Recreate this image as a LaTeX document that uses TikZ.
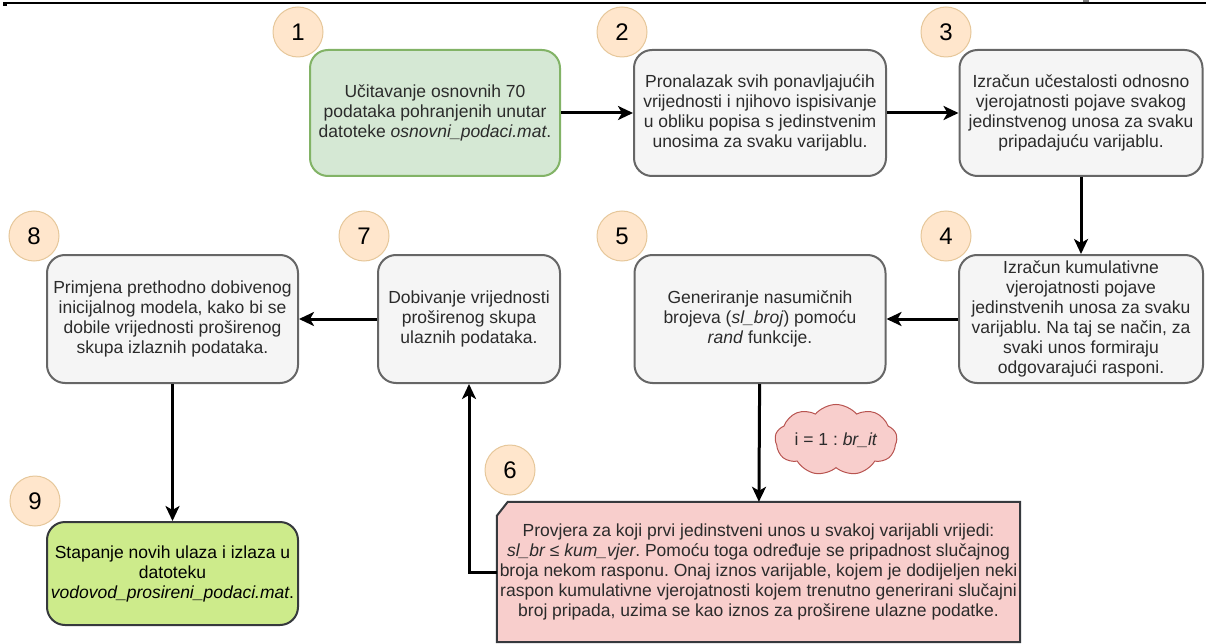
\documentclass[tikz,border=0pt]{standalone}
\usepackage{fontspec}
\setmainfont{Liberation Sans}
\usetikzlibrary{arrows.meta,shapes.symbols,backgrounds}
\definecolor{grayfill}{HTML}{F5F5F5}
\definecolor{grayline}{HTML}{666666}
\definecolor{textgray}{HTML}{2B2B2B}
\definecolor{greenfill}{HTML}{D5E8D4}
\definecolor{greenline}{HTML}{82B366}
\definecolor{limefill}{HTML}{CDEB8B}
\definecolor{darkline}{HTML}{36393D}
\definecolor{pinkfill}{HTML}{F8CECC}
\definecolor{cloudline}{HTML}{B85450}
\definecolor{numfill}{HTML}{FFE6CC}
\definecolor{numline}{HTML}{E6C79A}
\frenchspacing
\begin{document}
\begin{tikzpicture}[x = 1pt, y = -1pt,
	font = \fontsize{17.5}{20}\selectfont,
	stepbox/.style = {draw = grayline, fill = grayfill, text = textgray, line width = 2pt,
		rounded corners = 18pt, align = center, inner sep = 2pt},
	numcirc/.style = {circle, draw = numline, fill = numfill, line width = 1pt,
		minimum size = 50pt, inner sep = 0pt, font = \fontsize{24}{24}\selectfont},
	flow/.style = {-{Stealth[length = 15pt, width = 14pt, inset = 4pt]}, line width = 3pt}]
	\useasboundingbox (0, 0) rectangle (1206, 644);
	\draw [line width = 1.6pt] (3, 3.3) -- (1206, 3.3);
	\fill (3, 3) rectangle (7, 6);
	\fill [gray] (1083, 0) rectangle (1089, 2.5);
	% number marks
	\foreach \n/\x/\y in {1/298/32, 2/622/32, 3/946/32, 4/946/236, 5/622/236, 6/510/470, 7/364/236, 8/34/236, 9/35/501}
	{
		\node [numcirc] (c\n) at (\x, \y) {\n};
	}
	% steps
	\node [stepbox, draw = greenline, fill = greenfill, minimum width = 250pt, minimum height = 126pt] (b1) at (435, 113)
		{U\v{c}itavanje osnovnih 70\\podataka pohranjenih unutar\\datoteke \textit{osnovni\_podaci.mat}.};
	\node [stepbox, minimum width = 252pt, minimum height = 126pt] (b2) at (760, 113)
		{Pronalazak svih ponavljaju\'cih\\vrijednosti i njihovo ispisivanje\\u obliku popisa s jedinstvenim\\unosima za svaku varijablu.};
	\node [stepbox, minimum width = 243pt, minimum height = 126pt] (b3) at (1081, 113)
		{Izra\v{c}un u\v{c}estalosti odnosno\\vjerojatnosti pojave svakog\\jedinstvenog unosa za svaku\\pripadaju\'cu varijablu.};
	\node [stepbox, minimum width = 244pt, minimum height = 128pt] (b4) at (1081, 319)
		{Izra\v{c}un kumulativne\\vjerojatnosti pojave\\jedinstvenih unosa za svaku\\varijablu. Na taj se na\v{c}in, za\\svaki unos formiraju\\odgovaraju\'ci rasponi.};
	\node [stepbox, minimum width = 251pt, minimum height = 128pt] (b5) at (760, 319)
		{Generiranje nasumi\v{c}nih\\brojeva (\textit{sl\_broj}) pomo\'cu\\\textit{rand} funkcije.};
	\node [stepbox, minimum width = 182pt, minimum height = 128pt] (b7) at (469, 319)
		{Dobivanje vrijednosti\\pro\v{s}irenog skupa\\ulaznih podataka.};
	\node [stepbox, minimum width = 251pt, minimum height = 128pt] (b8) at (172.5, 319)
		{Primjena prethodno dobivenog\\inicijalnog modela, kako bi se\\dobile vrijednosti pro\v{s}irenog\\skupa izlaznih podataka.};
	\node [stepbox, draw = darkline, fill = limefill, text = black, minimum width = 251pt, minimum height = 103pt] (b9) at (172.5, 573.5)
		{Stapanje novih ulaza i izlaza u\\datoteku\\\textit{vodovod\_prosireni\_podaci.mat}.};
	\node [text = textgray, align = center, inner sep = 0pt, minimum width = 523pt, minimum height = 140pt] (b6) at (758.5, 572)
		{Provjera za koji prvi jedinstveni unos u svakoj varijabli vrijedi:\\
		\textit{sl\_br ≤ kum\_vjer}. Pomo\'cu toga odre\dj uje se pripadnost slu\v{c}ajnog\\
		broja nekom rasponu. Onaj iznos varijable, kojem je dodijeljen neki\\
		raspon kumulativne vjerojatnosti kojem trenutno generirani slu\v{c}ajni\\
		broj pripada, uzima se kao iznos za pro\v{s}irene ulazne podatke.};
	\begin{scope}[on background layer]
		\draw [draw = darkline, fill = pinkfill, line width = 2pt]
			([yshift = -14pt] b6.north west) -- ([xshift = 11pt] b6.north west) -- (b6.north east)
			-- (b6.south east) -- (b6.south west) -- cycle;
	\end{scope}
	\node [cloud, cloud puffs = 9, cloud puff arc = 100, aspect = 2.1, draw = cloudline, fill = pinkfill, text = textgray,
		line width = 1pt, minimum width = 122pt, minimum height = 62pt, inner sep = 0pt] (loop) at (836, 440) {i = 1 : \textit{br\_it}};
	% connectors
	\draw [flow] (b1) -- (b2);
	\draw [flow] (b2) -- (b3);
	\draw [flow] (b3) -- (b4);
	\draw [flow] (b4) -- (b5);
	\draw [flow] (b5) -- (b6);
	\draw [flow] (b6.west) -| (b7.south);
	\draw [flow] (b7) -- (b8);
	\draw [flow] (b8) -- (b9);
\end{tikzpicture}
\end{document}
